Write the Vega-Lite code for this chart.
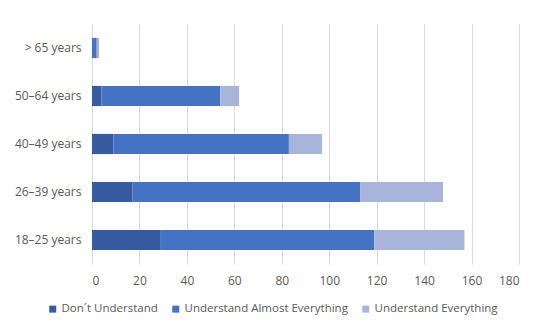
{
  "$schema": "https://vega.github.io/schema/vega-lite/v6.json",
  "width": 427,
  "height": 240,
  "autosize": {"type": "none"},
  "padding": {"left": 92, "top": 24, "right": 31, "bottom": 72},
  "background": "white",
  "data": {"values": [
    {"age": "> 65 years", "level": "Don´t Understand", "count": 0},
    {"age": "> 65 years", "level": "Understand Almost Everything", "count": 2},
    {"age": "> 65 years", "level": "Understand Everything", "count": 1},
    {"age": "50–64 years", "level": "Don´t Understand", "count": 4},
    {"age": "50–64 years", "level": "Understand Almost Everything", "count": 50},
    {"age": "50–64 years", "level": "Understand Everything", "count": 8},
    {"age": "40–49 years", "level": "Don´t Understand", "count": 9},
    {"age": "40–49 years", "level": "Understand Almost Everything", "count": 74},
    {"age": "40–49 years", "level": "Understand Everything", "count": 14},
    {"age": "26–39 years", "level": "Don´t Understand", "count": 17},
    {"age": "26–39 years", "level": "Understand Almost Everything", "count": 96},
    {"age": "26–39 years", "level": "Understand Everything", "count": 35},
    {"age": "18–25 years", "level": "Don´t Understand", "count": 29},
    {"age": "18–25 years", "level": "Understand Almost Everything", "count": 90},
    {"age": "18–25 years", "level": "Understand Everything", "count": 38}
  ]},
  "mark": {"type": "bar"},
  "encoding": {
    "y": {
      "field": "age", "type": "nominal",
      "sort": ["> 65 years", "50–64 years", "40–49 years", "26–39 years", "18–25 years"],
      "scale": {"paddingInner": 0.58, "paddingOuter": 0.29},
      "axis": {"title": null, "ticks": false, "domain": false, "labelPadding": 11, "labelFontSize": 12, "labelColor": "#595959", "labelFont": "Open Sans"}
    },
    "x": {
      "field": "count", "type": "quantitative", "aggregate": "sum",
      "scale": {"domain": [0, 180], "nice": false},
      "axis": {"title": null, "values": [0,20,40,60,80,100,120,140,160,180], "ticks": false, "domain": false, "grid": true, "gridColor": "#D9D9D9", "gridWidth": 1, "labelPadding": 11, "labelFontSize": 12, "labelColor": "#595959", "labelFont": "Open Sans"}
    },
    "color": {
      "field": "level", "type": "nominal",
      "scale": {"domain": ["Don´t Understand", "Understand Almost Everything", "Understand Everything"], "range": ["#345C9F", "#4472C4", "#A7B5DB"]},
      "legend": {"title": null, "orient": "none", "direction": "horizontal", "legendX": -45, "legendY": 279, "symbolType": "square", "symbolSize": 49, "symbolStrokeWidth": 0, "labelFontSize": 11.5, "labelColor": "#595959", "labelFont": "Open Sans", "labelLimit": 400, "columnPadding": 12, "labelOffset": 3}
    }
  },
  "config": {"view": {"stroke": null}}
}
